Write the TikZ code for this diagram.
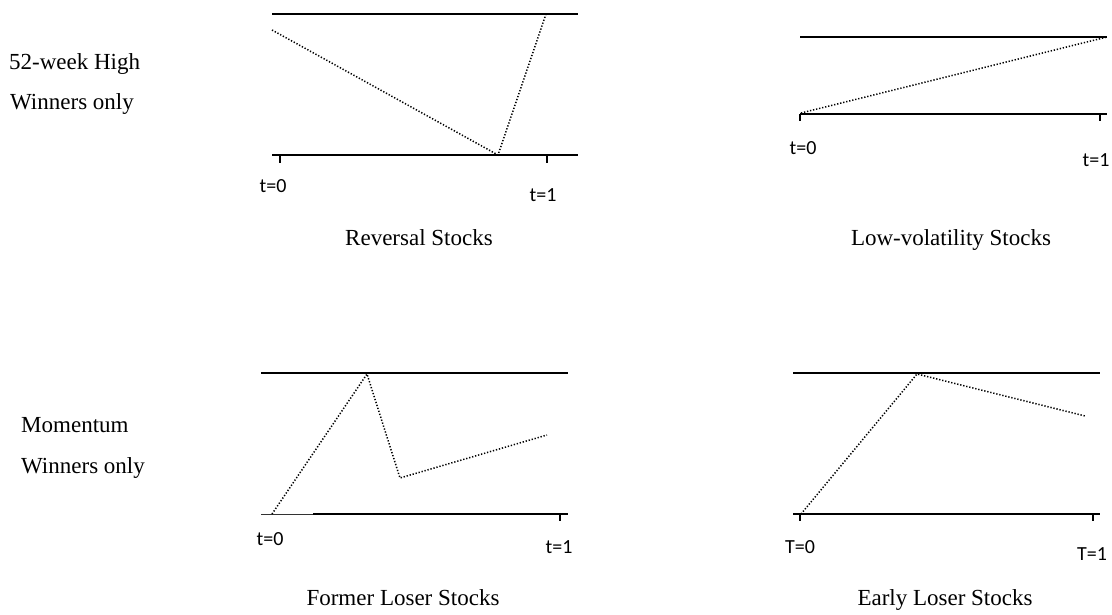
\documentclass[tikz,border=0pt]{standalone}
\usepackage{fontspec}
\setmainfont{Liberation Serif}
\newfontfamily\axisfont{Carlito}
\usetikzlibrary{positioning}

\begin{document}
\begin{tikzpicture}[x=1pt,y=-1pt,
bound/.style={line width=1.7pt},
price/.style={line width=1.5pt,dash pattern=on 1.3pt off 1.8pt},
tickmark/.style={line width=1.4pt},
tlabel/.style={font=\axisfont\fontsize{20}{24}\selectfont,anchor=base,inner sep=0pt},
caption/.style={font=\fontsize{23}{27}\selectfont,anchor=base,inner sep=0pt},
side/.style={font=\fontsize{23}{27}\selectfont,anchor=base west,inner sep=0pt}]
\useasboundingbox (0,0) rectangle (1112,615);
\coordinate (revTL) at (272,14);
\coordinate (revTR) at (578,14);
\coordinate (revBL) at (272,155);
\coordinate (revBR) at (578,155);
\coordinate (revK0) at (280,155);
\coordinate (revK0e) at (280,163);
\coordinate (revK1) at (547,155);
\coordinate (revK1e) at (547,163);
\coordinate (revP1) at (272,30);
\coordinate (revP2) at (498,155);
\coordinate (revP3) at (546,14);
\draw[bound] (revTL)--(revTR);
\draw[bound] (revBL)--(revBR);
\draw[tickmark] (revK0)--(revK0e);
\draw[tickmark] (revK1)--(revK1e);
\draw[price] (revP1)--(revP2)--(revP3);
\node[tlabel] (revT0) at (273,193) {t=0};
\node[tlabel] (revT1) at (543,202) {t=1};
\node[caption] (revCap) at (419,245) {Reversal Stocks};
\coordinate (lowTL) at (800,37);
\coordinate (lowTR) at (1107,37);
\coordinate (lowBL) at (800,114);
\coordinate (lowBR) at (1107,114);
\coordinate (lowK0e) at (800,121);
\coordinate (lowK1) at (1100,114);
\coordinate (lowK1e) at (1100,121);
\coordinate (lowP1) at (801,113);
\coordinate (lowP2) at (1107,37);
\draw[bound] (lowTL)--(lowTR);
\draw[bound] (lowBL)--(lowBR);
\draw[tickmark] (lowBL)--(lowK0e);
\draw[tickmark] (lowK1)--(lowK1e);
\draw[price] (lowP1)--(lowP2);
\node[tlabel] (lowT0) at (803,155) {t=0};
\node[tlabel] (lowT1) at (1096,167) {t=1};
\node[caption] (lowCap) at (951,245) {Low-volatility Stocks};
\coordinate (forTL) at (261,373);
\coordinate (forTR) at (568,373);
\coordinate (forBL) at (261,514);
\coordinate (forBM) at (313,514);
\coordinate (forBR) at (568,514);
\coordinate (forK1) at (560,514);
\coordinate (forK1e) at (560,521);
\coordinate (forP1) at (272,514);
\coordinate (forP2) at (367,374);
\coordinate (forP3) at (400,478);
\coordinate (forP4) at (547,435);
\draw[bound] (forTL)--(forTR);
\draw[line width=1pt,black!80] (forBL)--(forBM);
\draw[bound] (forBM)--(forBR);
\draw[tickmark] (forK1)--(forK1e);
\draw[price] (forP1)--(forP2)--(forP3)--(forP4);
\node[tlabel] (forT0) at (270,545) {t=0};
\node[tlabel] (forT1) at (559,553) {t=1};
\node[caption] (forCap) at (403,605) {Former Loser Stocks};
\coordinate (earTL) at (793,373);
\coordinate (earTR) at (1100,373);
\coordinate (earBL) at (793,514);
\coordinate (earBR) at (1100,514);
\coordinate (earK0) at (800,514);
\coordinate (earK0e) at (800,521);
\coordinate (earK1) at (1093,514);
\coordinate (earK1e) at (1093,521);
\coordinate (earP1) at (801,514);
\coordinate (earP2) at (917,374);
\coordinate (earP3) at (1085,416);
\draw[bound] (earTL)--(earTR);
\draw[bound] (earBL)--(earBR);
\draw[tickmark] (earK0)--(earK0e);
\draw[tickmark] (earK1)--(earK1e);
\draw[price] (earP1)--(earP2)--(earP3);
\node[tlabel] (earT0) at (800,553) {T=0};
\node[tlabel] (earT1) at (1092,560) {T=1};
\node[caption] (earCap) at (945,605) {Early Loser Stocks};
\node[side] (highA) at (9,70) {52-week High};
\node[side] (highB) at (10,110) {Winners only};
\node[side] (momA) at (21,432) {Momentum};
\node[side] (momB) at (21,473) {Winners only};
\end{tikzpicture}
\end{document}
